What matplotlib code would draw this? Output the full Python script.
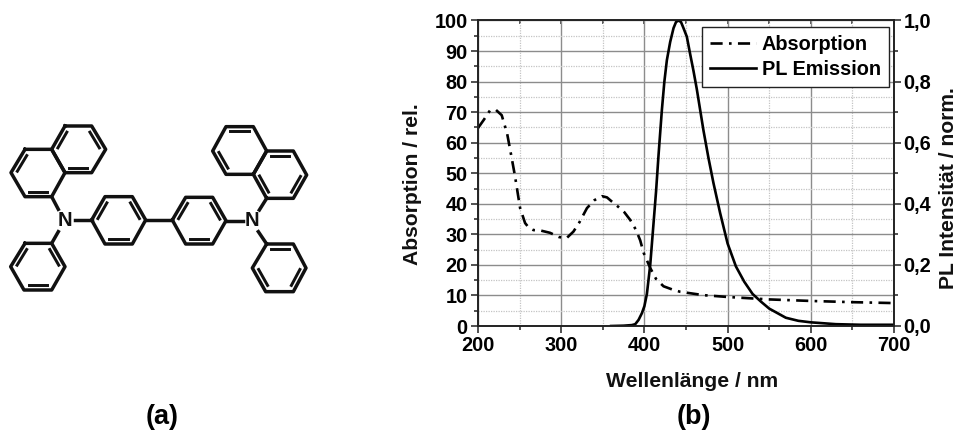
import matplotlib
matplotlib.use("Agg")
import matplotlib.pyplot as plt
import numpy as np
from matplotlib.ticker import MultipleLocator, FuncFormatter

abs_x = [200,207,214.5,221.7,228.5,235,240.5,244.5,250.6,256.6,261,266.6,276,286.6,297.5,306.6,314.7,322,331,340,349,355,361,368.6,376,383,390,395,399,407,414,423,433,443,471,500,550,600,650,700]
abs_y = [64.8,67.5,70.6,70.7,69,63,55,49,38.6,33.7,32.2,31.4,31.2,30.5,29.1,28.8,30.9,34,38.6,41.2,42.5,42.1,40.7,39,37.2,34.7,31.4,28,24,19,15.4,13,12,11.2,10.1,9.5,8.7,8.2,7.8,7.5]
pl_x = [360,375,385,389,393,397,400,403,407,411,414,417,421,424,427,431,435,438,441,444,447,451,455,459,463,471,477,483,491,500,510,520,530,540,550,570,585,600,630,660,700]
pl_y = [0,0.001,0.003,0.006,0.02,0.042,0.065,0.105,0.2,0.337,0.44,0.56,0.707,0.80,0.87,0.93,0.975,0.995,1.0,0.995,0.975,0.947,0.89,0.835,0.775,0.64,0.55,0.468,0.37,0.27,0.195,0.145,0.105,0.08,0.057,0.027,0.017,0.012,0.006,0.004,0.004]
x_ticks = [200,300,400,500,600,700]
left_ticks = list(range(0,101,10))
right_ticks = [0.0,0.2,0.4,0.6,0.8,1.0]
x_label = "Wellenlänge / nm"
left_label = "Absorption / rel."
right_label = "PL Intensität / norm."
legend_labels = ["Absorption","PL Emission"]
panel_labels = ["(a)","(b)"]

# Molecule outline, read in 3x-zoom pixels of the reference
rings = [
 [(195,48),(275,48),(317,118),(275,188),(195,188),(155,118)],
 [(75,118),(155,118),(195,188),(155,260),(75,260),(33,188)],
 [(75,400),(155,400),(195,470),(155,540),(72,540),(32,470)],
 [(275,330),(315,260),(397,260),(437,330),(397,402),(315,402)],
 [(517,330),(557,262),(638,262),(678,332),(638,402),(557,402)],
 [(800,265),(880,265),(920,195),(880,123),(800,123),(760,193)],
 [(760,193),(800,123),(760,50),(678,50),(638,123),(678,193)],
 [(800,402),(880,402),(918,474),(880,545),(797,545),(757,474)],
]
double_edges = [[1,3,5],[3,5],[1,3,5],[0,2,4],[0,2,4],[1,3,5],[2,4],[0,2,4]]
extra_bonds = [((155,260),(175,298)),((175,365),(155,400)),((225,330),(275,330)),
               ((437,330),(517,330)),((678,332),(728,332)),((800,265),(778,300)),((775,365),(800,402))]
n_atoms = [(195,332),(757,332)]

plt.rcParams['font.family'] = ['Liberation Sans','DejaVu Sans']
plt.rcParams['font.weight'] = 'bold'
W,H = 962,436
fig = plt.figure(figsize=(W/100,H/100),dpi=100,facecolor='white')

bg = fig.add_axes([0,0,1,1])
bg.set_xlim(0,W); bg.set_ylim(H,0); bg.axis('off')
def px(p): return (p[0]/3, 110+p[1]/3)
lw=2.5
for ring,dbl in zip(rings,double_edges):
    pts=[px(p) for p in ring]
    c=np.mean(pts,axis=0)
    xs=[p[0] for p in pts]+[pts[0][0]]; ys=[p[1] for p in pts]+[pts[0][1]]
    bg.plot(xs,ys,color='#111111',lw=lw,solid_joinstyle='round')
    for e in dbl:
        a=np.array(pts[e]); b=np.array(pts[(e+1)%6])
        a2=c+(a-c)*0.80; b2=c+(b-c)*0.80
        a3=a2+(b2-a2)*0.08; b3=b2-(b2-a2)*0.08
        bg.plot([a3[0],b3[0]],[a3[1],b3[1]],color='#111111',lw=lw*0.85)
for p,q in extra_bonds:
    a,b=px(p),px(q)
    bg.plot([a[0],b[0]],[a[1],b[1]],color='#111111',lw=lw)
for p in n_atoms:
    a=px(p)
    bg.text(a[0],a[1],"N",ha='center',va='center',fontsize=14.5,color='#111111')
bg.text(162,417,panel_labels[0],ha='center',va='center',fontsize=19.5,color='black')
bg.text(694,417,panel_labels[1],ha='center',va='center',fontsize=19.5,color='black')
bg.text(692,381,x_label,ha='center',va='center',fontsize=15.2,color='#111111')
bg.text(413,184,left_label,ha='center',va='center',rotation=90,fontsize=15.2,color='#111111')
bg.text(949,188,right_label,ha='center',va='center',rotation=90,fontsize=15.2,color='#111111')

L,R,T,B = 478,894,20.5,326
ax = fig.add_axes([L/W,1-B/H,(R-L)/W,(B-T)/H])
ax.patch.set_alpha(0)
ax.set_xlim(200,700); ax.set_ylim(0,100)
ax.set_xticks(x_ticks); ax.set_yticks(left_ticks)
ax.xaxis.set_minor_locator(MultipleLocator(50))
ax.yaxis.set_minor_locator(MultipleLocator(5))
ax.grid(True,which='major',color='#8c8c8c',lw=1.0)
ax.grid(True,which='minor',color='#c4c4c4',lw=0.9,ls=(0,(1,1)))
ax.set_axisbelow(True)
ax.tick_params(which='major',direction='out',length=5,width=1.1,labelsize=14.3,color='#222222',pad=2.5)
ax.tick_params(which='minor',direction='out',length=3,width=1.1,color='#222222')
for s in ax.spines.values():
    s.set_linewidth(1.2); s.set_color('#222222')
l1,=ax.plot(abs_x,abs_y,color='black',lw=1.9,ls=(0,(4.6,2.4,1,2.4)),label=legend_labels[0])

top = ax.secondary_xaxis('top')
top.set_xticks(x_ticks); top.xaxis.set_minor_locator(MultipleLocator(50))
top.tick_params(which='both',direction='in',length=3,width=1.1,labeltop=False,color='#222222')
top.spines['top'].set_visible(False)

ax2 = ax.twinx()
ax2.set_ylim(0,1.0)
ax2.set_yticks(right_ticks)
ax2.yaxis.set_minor_locator(MultipleLocator(0.1))
ax2.yaxis.set_major_formatter(FuncFormatter(lambda v,_:f"{v:.1f}".replace('.',',')))
ax2.tick_params(which='major',direction='out',length=5,width=1.1,labelsize=14.3,color='#222222',pad=2)
ax2.tick_params(which='minor',direction='out',length=3,width=1.1,color='#222222')
for s in ax2.spines.values():
    s.set_linewidth(1.2); s.set_color('#222222')
l2,=ax2.plot(pl_x,pl_y,color='black',lw=1.9,label=legend_labels[1],solid_joinstyle='round')

leg = ax2.legend(handles=[l1,l2],loc='upper left',bbox_to_anchor=((702-L)/(R-L),1-(27-T)/(B-T)),
    borderaxespad=0,frameon=True,fancybox=False,framealpha=1,edgecolor='#222222',
    handlelength=2.3,handletextpad=0.3,labelspacing=0.3,borderpad=0.4,prop={'weight':'bold','size':14.3})
leg.get_frame().set_linewidth(1.0)
fig.savefig('out.png',dpi=100)
